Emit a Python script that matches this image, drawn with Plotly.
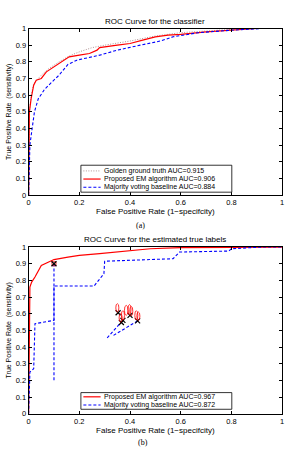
import plotly.graph_objects as go

W, H = 291, 452
FONT = "Liberation Sans, Arial, Helvetica, sans-serif"

# ---------------- data: panel (a) ----------------
a_gold_fpr = [0, 0.003, 0.01, 0.02, 0.05, 0.08, 0.12, 0.16, 0.2, 0.25, 0.3, 0.4, 0.5, 0.6, 0.7, 0.8, 0.9, 1.0]
a_gold_tpr = [0, 0.5, 0.6, 0.67, 0.72, 0.76, 0.8, 0.835, 0.86, 0.885, 0.9, 0.925, 0.955, 0.975, 0.985, 0.995, 1.0, 1.0]

a_em_fpr = [0, 0.003, 0.01, 0.02, 0.03, 0.05, 0.07, 0.1, 0.13, 0.16, 0.2, 0.24, 0.27, 0.28, 0.35, 0.4, 0.45, 0.5, 0.55, 0.6, 0.7, 0.8, 0.9, 1.0]
a_em_tpr = [0, 0.5, 0.58, 0.66, 0.69, 0.7, 0.74, 0.77, 0.8, 0.83, 0.84, 0.85, 0.87, 0.885, 0.9, 0.91, 0.93, 0.95, 0.96, 0.965, 0.98, 0.99, 1.0, 1.0]

a_mv_fpr = [0, 0.005, 0.012, 0.023, 0.038, 0.063, 0.09, 0.12, 0.155, 0.19, 0.28, 0.35, 0.44, 0.52, 0.57, 0.67, 0.8, 0.92, 1.0]
a_mv_tpr = [0, 0.3, 0.38, 0.5, 0.578, 0.635, 0.676, 0.72, 0.784, 0.81, 0.84, 0.87, 0.9, 0.925, 0.95, 0.975, 0.99, 1.0, 1.0]

a_labels = ["Golden ground truth AUC=0.915",
            "Proposed EM algorithm AUC=0.906",
            "Majority voting baseline AUC=0.884"]

# ---------------- data: panel (b) ----------------
b_em_fpr = [0, 0.002, 0.005, 0.012, 0.025, 0.05, 0.09, 0.1, 0.155, 0.2, 0.28, 0.35, 0.41, 0.48, 0.6, 0.8, 1.0]
b_em_tpr = [0, 0.7, 0.76, 0.79, 0.82, 0.89, 0.92, 0.925, 0.94, 0.95, 0.96, 0.97, 0.98, 0.99, 0.997, 1.0, 1.0]

b_mv_fpr = [0, 0.002, 0.005, 0.02, 0.025, 0.1, 0.1, None,
            0.1, 0.1, 0.258, 0.297, 0.3, 0.57, 0.595, 0.79, 0.8, 0.92, 1.0, None,
            0.31, 0.372, None, 0.335, 0.43]
b_mv_tpr = [0, 0.2, 0.25, 0.27, 0.54, 0.56, 0.9, None,
            0.2, 0.766, 0.766, 0.84, 0.915, 0.93, 0.97, 0.976, 0.99, 1.0, 1.0, None,
            0.455, 0.56, None, 0.47, 0.557]

# annotator operating points (black x) and their red uncertainty loops
b_pts_fpr = [0.1, 0.353, 0.366, 0.372, 0.40, 0.43]
b_pts_tpr = [0.9, 0.606, 0.547, 0.56, 0.59, 0.557]
b_loop_fpr = [0.35, 0.363, 0.372, 0.385, 0.398, 0.405, 0.425, 0.433]
b_loop_tpr = [0.635, 0.575, 0.59, 0.62, 0.625, 0.615, 0.59, 0.585]
b_loop_rx = [0.006, 0.006, 0.006, 0.007, 0.006, 0.006, 0.006, 0.006]
b_loop_ry = [0.025, 0.025, 0.028, 0.03, 0.03, 0.028, 0.028, 0.025]

b_labels = ["Proposed EM algorithm AUC=0.967",
            "Majority voting baseline AUC=0.872"]

titles = ["ROC Curve for the classifier", "ROC Curve for the estimated true labels"]
panel_tags = ["(a)", "(b)"]
x_title = "False Positive Rate (1\u2212specifcity)"
y_title = "True Positive Rate  (sensitivity)"
x_ticks = [0, 0.2, 0.4, 0.6, 0.8, 1]
y_ticks = [0, 0.1, 0.2, 0.3, 0.4, 0.5, 0.6, 0.7, 0.8, 0.9, 1]

RED = "#ff0000"
BLUE = "#0000ff"
GOLD = "#b09494"
DASH = "3px,2px"
DOT = "1px,1.5px"

# ---------------- figure ----------------
def px(x):
    return x / W

def py(y):
    return 1 - y / H

fig = go.Figure()

# panel (a)
fig.add_trace(go.Scatter(x=a_gold_fpr, y=a_gold_tpr, mode="lines", name=a_labels[0],
                         line=dict(color=GOLD, width=1, dash=DOT), xaxis="x", yaxis="y", showlegend=False))
fig.add_trace(go.Scatter(x=a_em_fpr, y=a_em_tpr, mode="lines", name=a_labels[1],
                         line=dict(color=RED, width=1.2), xaxis="x", yaxis="y", showlegend=False))
fig.add_trace(go.Scatter(x=a_mv_fpr, y=a_mv_tpr, mode="lines", name=a_labels[2],
                         line=dict(color=BLUE, width=1.1, dash=DASH), xaxis="x", yaxis="y", showlegend=False))

# panel (b)
fig.add_trace(go.Scatter(x=b_em_fpr, y=b_em_tpr, mode="lines", name=b_labels[0],
                         line=dict(color=RED, width=1.2), xaxis="x2", yaxis="y2", showlegend=False))
fig.add_trace(go.Scatter(x=b_mv_fpr, y=b_mv_tpr, mode="lines", name=b_labels[1],
                         line=dict(color=BLUE, width=1.1, dash=DASH), xaxis="x2", yaxis="y2",
                         showlegend=False, connectgaps=False))
fig.add_trace(go.Scatter(x=b_pts_fpr[:1], y=b_pts_tpr[:1], mode="markers",
                         marker=dict(symbol="square-open", color=RED, size=4, line=dict(width=0.8)),
                         xaxis="x2", yaxis="y2", showlegend=False, hoverinfo="skip"))
fig.add_trace(go.Scatter(x=b_pts_fpr, y=b_pts_tpr, mode="markers",
                         marker=dict(symbol="x-thin-open", color="black", size=5, line=dict(width=1.2, color="black")),
                         xaxis="x2", yaxis="y2", showlegend=False, hoverinfo="skip"))

shapes = []
for cx, cy, rx, ry in zip(b_loop_fpr, b_loop_tpr, b_loop_rx, b_loop_ry):
    shapes.append(dict(type="circle", xref="x2", yref="y2",
                       x0=cx - rx, x1=cx + rx, y0=cy - ry, y1=cy + ry,
                       line=dict(color=RED, width=0.8)))

axis_common = dict(range=[0, 1], showgrid=False, zeroline=False, showline=True, linecolor="black",
                   linewidth=1, mirror="ticks", ticks="inside", ticklen=3, tickcolor="black",
                   tickfont=dict(family=FONT, size=7.5, color="black"))

dom_x = [px(27), px(284)]
fig.update_layout(
    xaxis=dict(domain=dom_x, anchor="y", tickvals=x_ticks, ticktext=[str(v) for v in x_ticks],
               title=dict(text=x_title, font=dict(family=FONT, size=8, color="black"), standoff=2), **axis_common),
    yaxis=dict(domain=[py(195), py(25)], anchor="x", tickvals=y_ticks, ticktext=[str(v) for v in y_ticks],
               title=dict(text=y_title, font=dict(family=FONT, size=7, color="black"), standoff=3), **axis_common),
    xaxis2=dict(domain=dom_x, anchor="y2", tickvals=x_ticks, ticktext=[str(v) for v in x_ticks],
                title=dict(text=x_title, font=dict(family=FONT, size=8, color="black"), standoff=2), **axis_common),
    yaxis2=dict(domain=[py(418), py(248)], anchor="x2", tickvals=y_ticks, ticktext=[str(v) for v in y_ticks],
                title=dict(text=y_title, font=dict(family=FONT, size=7, color="black"), standoff=3), **axis_common),
)

annotations = []
# titles and panel tags
for t, yy in zip(titles, [18, 240]):
    annotations.append(dict(text=t, x=px(155.5), y=py(yy), xref="paper", yref="paper", showarrow=False,
                            font=dict(family=FONT, size=8, color="black"), xanchor="center", yanchor="middle"))
for t, yy, xx in zip(panel_tags, [226, 447], [140, 143]):
    annotations.append(dict(text=t, x=px(xx), y=py(yy), xref="paper", yref="paper", showarrow=False,
                            font=dict(family="Liberation Serif, Times New Roman, serif", size=8, color="black"),
                            xanchor="center", yanchor="middle"))

# legends (drawn as boxed key, matching MATLAB legend layout)
def legend_box(x0, x1, y0, y1, rows, labels, styles):
    shapes.append(dict(type="rect", xref="paper", yref="paper", x0=px(x0), x1=px(x1), y0=py(y1), y1=py(y0),
                       line=dict(color="black", width=0.8), fillcolor="white", layer="above"))
    for ry, lab, (col, dash, w) in zip(rows, labels, styles):
        shapes.append(dict(type="line", xref="paper", yref="paper", x0=px(x0 + 2.5), x1=px(x0 + 20),
                           y0=py(ry), y1=py(ry), line=dict(color=col, width=w, dash=dash), layer="above"))
        annotations.append(dict(text=lab, x=px(x0 + 22), y=py(ry), xref="paper", yref="paper", showarrow=False,
                                font=dict(family=FONT, size=7, color="black"), xanchor="left", yanchor="middle",
                                borderpad=0))

legend_box(80, 233, 164.5, 192, [170.3, 178.6, 186.9], a_labels,
           [(GOLD, DOT, 1), (RED, "solid", 1.2), (BLUE, DASH, 1.1)])
legend_box(80, 233, 396.5, 413.5, [400.8, 409.2], b_labels,
           [(RED, "solid", 1.2), (BLUE, DASH, 1.1)])

fig.update_layout(
    width=W, height=H, margin=dict(l=0, r=0, t=0, b=0),
    paper_bgcolor="white", plot_bgcolor="white",
    shapes=shapes, annotations=annotations, showlegend=False,
    font=dict(family=FONT, color="black"),
)

fig.write_html("out.html")
